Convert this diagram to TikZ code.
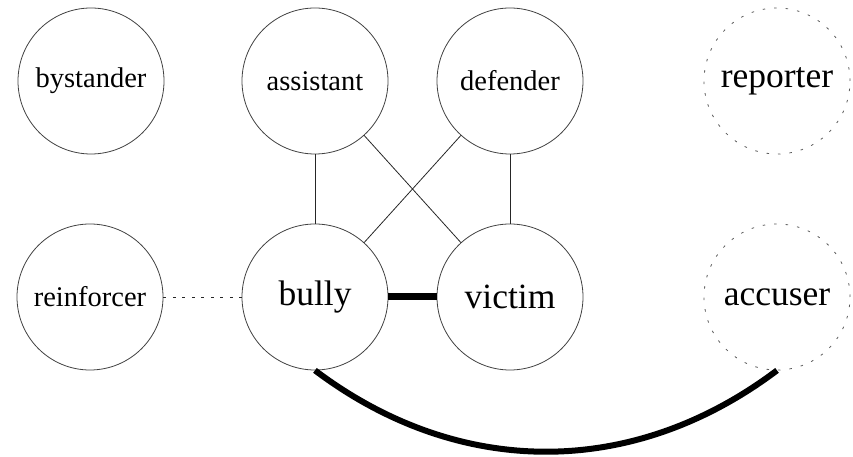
\documentclass[tikz,border=0pt]{standalone}
\usepackage{fontspec}
\setmainfont{Liberation Serif}

\tikzset{
	role/.style={circle, draw=black!75, line width=0.8pt, minimum size=146pt, inner sep=0pt, font=\fontsize{28.5}{34}\selectfont},
	mainrole/.style={role, font=\fontsize{35.5}{42}\selectfont},
	latent/.style={mainrole, draw=black!65, dash pattern=on 2.5pt off 9pt},
	tie/.style={draw=black!85, line width=0.8pt},
	strongtie/.style={draw=black, line width=7pt},
}

\begin{document}
\begin{tikzpicture}[x=1pt,y=1pt]
	\useasboundingbox (0,0) rectangle (853,457);
	\node[role] (bystander) at (91,376) {bystander};
	\node[role] (assistant) at (315,376) {assistant};
	\node[role] (defender) at (510,376) {defender};
	\node[latent] (reporter) at (777,376) {reporter};
	\node[role] (reinforcer) at (90,160) {reinforcer};
	\node[mainrole] (bully) at (315,160) {bully};
	\node[mainrole] (victim) at (510,160) {victim};
	\node[latent] (accuser) at (777,160) {accuser};
	%\draw[help lines] (0,0) grid[step=50] (853,457);
	\draw[tie] (assistant.south) -- (bully.north);
	\draw[tie] (defender.south) -- (victim.north);
	\draw[tie] (assistant) -- (victim);
	\draw[tie] (defender) -- (bully);
	\draw[tie, dash pattern=on 3pt off 6.5pt] (reinforcer) -- (bully);
	\draw[strongtie] (bully) -- (victim);
	\draw[draw=black, line width=6pt] (bully.south) to[out=-37, in=-143] (accuser.south);
\end{tikzpicture}
\end{document}
